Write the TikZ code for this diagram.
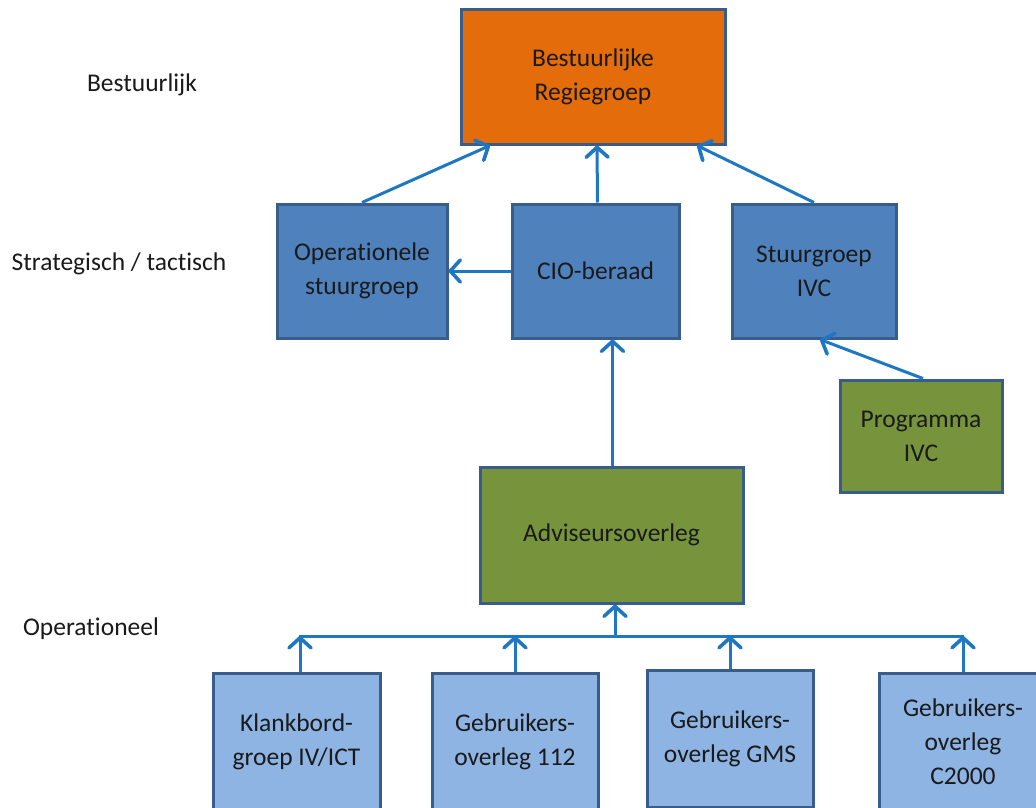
\documentclass[tikz,border=0pt]{standalone}
\usepackage{fontspec}
\setmainfont{Carlito}[Ligatures={NoCommon}]
\usetikzlibrary{arrows.meta}
\definecolor{bordc}{HTML}{385D8A}
\definecolor{orangec}{HTML}{E46C0A}
\definecolor{bluec}{HTML}{4F81BD}
\definecolor{greenc}{HTML}{77933C}
\definecolor{lightc}{HTML}{8EB4E3}
\definecolor{arrc}{HTML}{1F77C4}
\definecolor{txtc}{HTML}{1A1A1A}
\tikzset{
  box/.style={draw=bordc, line width=3pt, align=center, text=txtc,
    font=\fontsize{25.5}{34}\selectfont, inner sep=0pt},
  lab/.style={text=txtc, font=\fontsize{25.5}{34}\selectfont, inner sep=0pt},
  conn/.style={draw=arrc, line width=3pt, -{Straight Barb[length=10pt,width=22pt,line width=3.6pt,round]}},
  bus/.style={draw=arrc, line width=3pt}
}
\begin{document}
\begin{tikzpicture}[x=1pt,y=-1pt]
\clip (0,0) rectangle (1036,808);
\fill[white] (0,0) rectangle (1036,808);
% labels
\node[lab] (l1) at (142,85) {Bestuurlijk};
\node[lab] (l2) at (119,264) {Strategisch / tactisch};
\node[lab] (l3) at (91,629) {Operationeel};
% boxes
\node[box, fill=orangec, minimum width=264pt, minimum height=134pt] (br) at (593,77) {Bestuurlijke\\Regiegroep};
\node[box, fill=bluec, minimum width=170pt, minimum height=134pt] (os) at (362,271) {Operationele\\stuurgroep};
\node[box, fill=bluec, minimum width=167pt, minimum height=134pt] (cio) at (595.5,271) {CIO-beraad};
\node[box, fill=bluec, minimum width=164pt, minimum height=134pt] (ivc) at (814,271) {Stuurgroep\\IVC};
\node[box, fill=greenc, minimum width=162pt, minimum height=112pt] (pivc) at (921,436) {Programma\\IVC};
\node[box, fill=greenc, minimum width=263pt, minimum height=136pt] (adv) at (611.5,535) {Adviseursoverleg};
\node[box, fill=lightc, minimum width=167pt, minimum height=137pt] (b1) at (296.5,741.5) {Klankbord-\\groep IV/ICT};
\node[box, fill=lightc, minimum width=166pt, minimum height=137pt] (b2) at (515,741.5) {Gebruikers-\\overleg 112};
\node[box, fill=lightc, minimum width=166pt, minimum height=137pt] (b3) at (730,739) {Gebruikers-\\overleg GMS};
\node[box, fill=lightc, minimum width=167pt, minimum height=137pt] (b4) at (963,741.5) {Gebruikers-\\overleg\\C2000};
% connectors
\draw[conn] (os.north) -- ([xshift=-103pt]br.south);
\draw[conn] ([xshift=2pt]cio.north) -- ([xshift=4pt]br.south);
\draw[conn] (ivc.north) -- ([xshift=104pt]br.south);
\draw[conn] (cio.west) -- (os.east);
\draw[conn] ([xshift=17pt]cio.north |- adv.north) -- ([xshift=17pt]cio.south);
\draw[conn] ([xshift=2pt]pivc.north) -- ([xshift=6pt]ivc.south);
% bus
\coordinate (busl) at (299,636);
\coordinate (busr) at (964,636);
\draw[bus] (busl) -- (busr);
\draw[conn] ([xshift=3.5pt]adv.south |- busl) -- ([xshift=3.5pt]adv.south);
\draw[conn] ([xshift=3.5pt]b1.north) -- ([xshift=3.5pt]b1.north |- busl);
\draw[conn] (b2.north) -- (b2.north |- busl);
\draw[conn] (b3.north) -- (b3.north |- busl);
\draw[conn] (b4.north) -- (b4.north |- busl);
\end{tikzpicture}
\end{document}
